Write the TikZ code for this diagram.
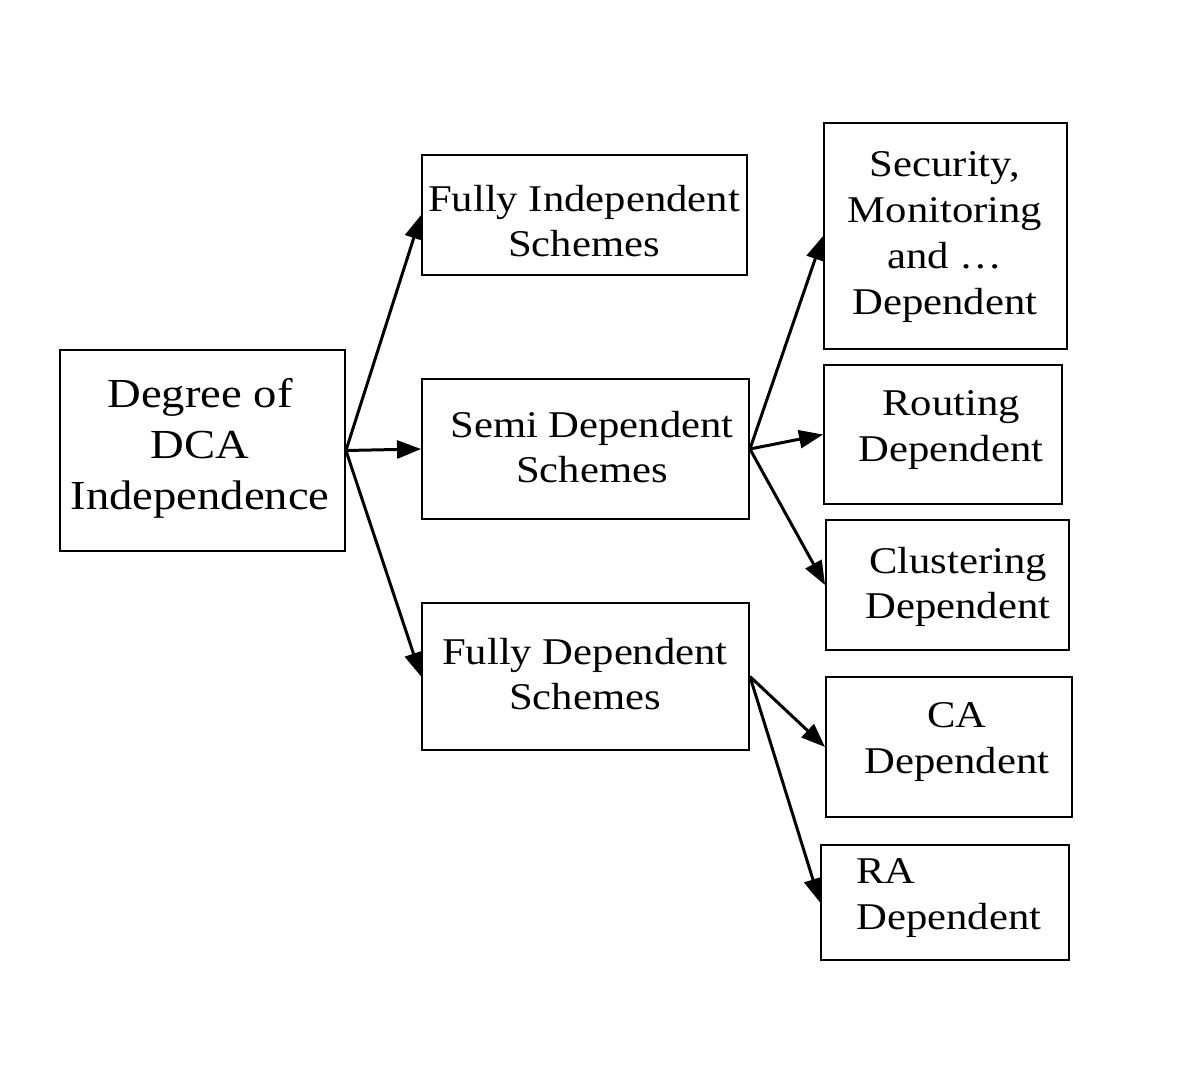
\documentclass[tikz,border=0pt]{standalone}
\usepackage{fontspec}
\setmainfont[FakeStretch=1.13]{Liberation Serif}
\usetikzlibrary{arrows.meta}
\begin{document}
\begin{tikzpicture}[x=0.02cm,y=-0.02cm,
  box/.style={draw,line width=1.1pt,inner sep=0pt},
  txt/.style={align=center,font=\fontsize{21.5}{26}\selectfont,inner sep=0pt},
  arr/.style={line width=1.7pt,-{Triangle[length=0.48cm,width=0.36cm]}}]
\useasboundingbox (0,0) rectangle (1200,1065);
\node[box,minimum width=5.7cm,minimum height=4.02cm] (deg) at (202.5,450.5) {};
\node[box,minimum width=6.5cm,minimum height=2.4cm] (fi) at (584.5,215) {};
\node[box,minimum width=6.54cm,minimum height=2.8cm] (semi) at (585.5,449) {};
\node[box,minimum width=6.54cm,minimum height=2.94cm] (fd) at (585.5,676.5) {};
\node[box,minimum width=4.86cm,minimum height=4.52cm] (sec) at (945.5,236) {};
\node[box,minimum width=4.76cm,minimum height=2.78cm] (rout) at (943,434.5) {};
\node[box,minimum width=4.86cm,minimum height=2.6cm] (clus) at (947.5,585) {};
\node[box,minimum width=4.92cm,minimum height=2.8cm] (ca) at (949,747) {};
\node[box,minimum width=4.96cm,minimum height=2.3cm] (ra) at (945,902.5) {};

\node[txt,font=\fontsize{23.5}{29}\selectfont] (tdeg) at (200,448) {Degree of\\DCA\\Independence};
\node[txt] (tfi) at (584,221) {Fully Independent\\Schemes};
\node[txt] (tsemi) at (592,447) {Semi Dependent\\Schemes};
\node[txt] (tfd) at (585,674) {Fully Dependent\\Schemes};
\node[txt] (tsec) at (945,237) {Security,\\Monitoring\\and \dots\\Dependent};
\node[txt] (trout) at (951,430) {Routing\\Dependent};
\node[txt] (tclus) at (958,587) {Clustering\\Dependent};
\node[txt] (tca) at (957,742) {CA\\Dependent};
\node[txt,align=left,anchor=west] (tra) at (856,898) {RA\\Dependent};

\draw[arr] (deg.east) -- (fi.west);
\draw[arr] (deg.east) -- (semi.west);
\draw[arr] (deg.east) -- (fd.west);
\draw[arr] (semi.east) -- (sec.west);
\draw[arr] (semi.east) -- (rout.west);
\draw[arr] (semi.east) -- (clus.west);
\draw[arr] (fd.east) -- (ca.west);
\draw[arr] (fd.east) -- (ra.west);
\end{tikzpicture}
\end{document}
